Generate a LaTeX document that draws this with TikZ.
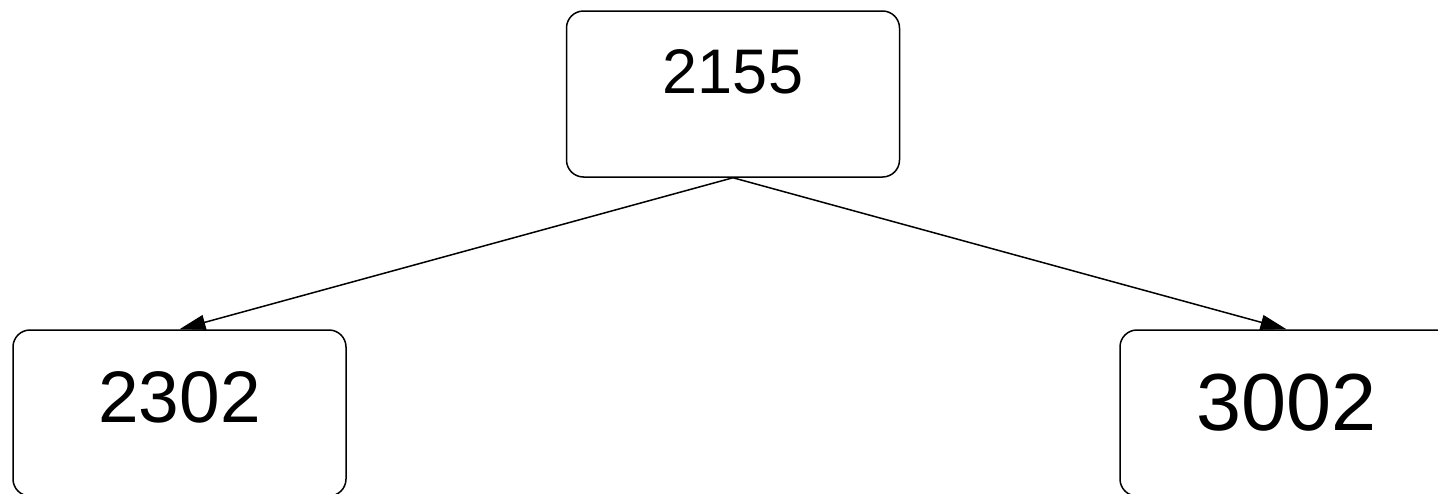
\documentclass[tikz,border=0pt]{standalone}
\usepackage{fontspec}
\setmainfont{Liberation Sans}
\usetikzlibrary{arrows.meta}
\begin{document}
\begin{tikzpicture}[x=1pt,y=-1pt,
  treebox/.style={draw=black, line width=1.5pt, rounded corners=17pt,
    inner sep=0pt, minimum width=333pt, align=center},
  link/.style={draw=black, line width=1.5pt, -{Triangle[length=26pt,width=15pt]}}]
  \clip (0,0) rectangle (1438,493);
  \useasboundingbox (0,0) rectangle (1438,493);
  % root and its two children
  \node[treebox, text height=82pt, text depth=84pt, font=\fontsize{63}{63}\selectfont]
    (root) at (733,94) {2155};
  \node[treebox, text height=92pt, text depth=74pt, font=\fontsize{73}{73}\selectfont]
    (left) at (179.5,413) {2302};
  \node[treebox, text height=100pt, text depth=66pt, font=\fontsize{81}{81}\selectfont]
    (right) at (1286.5,413) {3002};
  \draw[link] (root.south) -- (left.north);
  \draw[link] (root.south) -- (right.north);
\end{tikzpicture}
\end{document}
